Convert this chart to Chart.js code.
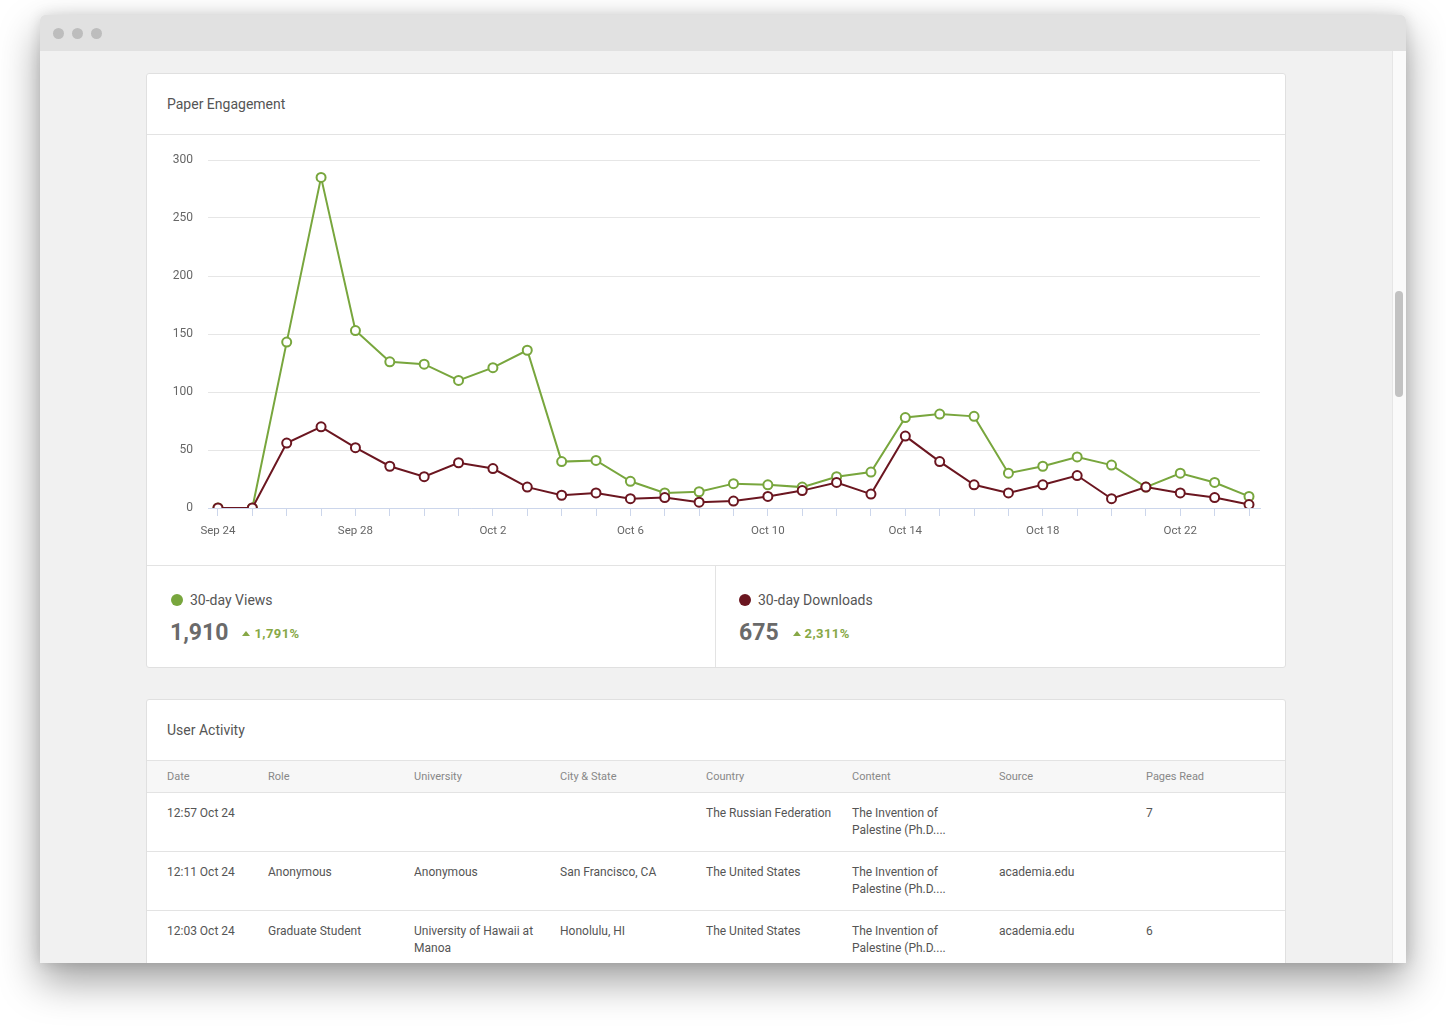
<!DOCTYPE html>
<html lang="en">
<head>
<meta charset="UTF-8">
<title>Paper Engagement</title>
<script src="https://cdn.jsdelivr.net/npm/chart.js"></script>
<style>
    html, body {
        margin: 0;
        padding: 0;
        background: #fff;
        font-family: Roboto, "Noto Sans", Arial, sans-serif;
    }

    .window {
        position: absolute;
        left: 40px;
        top: 15px;
        width: 1366px;
        height: 948px;
        overflow: hidden;
        border-radius: 5px 5px 0 0;
        box-shadow: 0 18px 40px rgba(0, 0, 0, 0.38), 0 0 14px rgba(0, 0, 0, 0.12);
    }

    .titlebar {
        height: 36px;
        background: #e1e1e1;
        position: relative;
    }

    .titlebar span {
        position: absolute;
        top: 13px;
        width: 11px;
        height: 11px;
        border-radius: 50%;
        background: #bdbdbd;
    }

    .content {
        position: absolute;
        top: 36px;
        left: 0;
        width: 1366px;
        height: 912px;
        background: #f1f1f1;
    }

    .scrollbar {
        position: absolute;
        left: 1352px;
        top: 0;
        width: 14px;
        height: 912px;
        background: #fafafa;
        border-left: 1px solid #e6e6e6;
        box-sizing: border-box;
    }

    .scrollbar div {
        position: absolute;
        left: 2px;
        top: 240px;
        width: 8px;
        height: 106px;
        border-radius: 4px;
        background: #c2c2c2;
    }

    .card {
        position: absolute;
        left: 106px;
        width: 1140px;
        background: #fff;
        border: 1px solid #e0e0e0;
        border-radius: 3px;
        box-sizing: border-box;
    }

    .card-head {
        height: 60px;
        border-bottom: 1px solid #e3e3e3;
        font-size: 14px;
        color: #555;
        line-height: 60px;
        padding-left: 20px;
    }

    .chart-box {
        position: relative;
        height: 430px;
    }

    .stats {
        display: flex;
        border-top: 1px solid #e3e3e3;
        height: 101px;
    }

    .stat {
        width: 568px;
        position: relative;
    }

    .stat + .stat {
        border-left: 1px solid #e3e3e3;
    }

    .stat .label {
        position: absolute;
        top: 26px;
        font-size: 14px;
        color: #555;
    }

    .stat .dot {
        display: inline-block;
        width: 12px;
        height: 12px;
        border-radius: 50%;
        margin-right: 7px;
        vertical-align: -1px;
    }

    .stat .num {
        position: absolute;
        top: 53px;
        font-size: 23px;
        font-weight: bold;
        color: #6a6a6a;
    }

    .stat .pct {
        font-size: 13px;
        letter-spacing: 0.4px;
        color: #87a846;
        margin-left: 14px;
        vertical-align: 2px;
    }

    .stat .pct i {
        display: inline-block;
        width: 0;
        height: 0;
        border-left: 4px solid transparent;
        border-right: 4px solid transparent;
        border-bottom: 5px solid #87a846;
        margin-right: 4px;
        vertical-align: 2px;
    }

    table {
        border-collapse: collapse;
        width: 100%;
        table-layout: fixed;
    }

    th {
        background: #f7f7f7;
        font-weight: normal;
        font-size: 11px;
        color: #888;
        text-align: left;
        height: 31px;
        padding: 0 0 0 20px;
        border-bottom: 1px solid #e3e3e3;
    }

    td {
        font-size: 12px;
        color: #555;
        line-height: 17px;
        vertical-align: top;
        padding: 12px 0 0 20px;
        height: 46px;
        border-bottom: 1px solid #e3e3e3;
    }
</style>
</head>
<body>
<div class="window">
    <div class="titlebar">
        <span style="left:13px"></span>
        <span style="left:32px"></span>
        <span style="left:51px"></span>
    </div>
    <div class="content">
        <!-- Paper engagement card -->
        <div class="card" style="top:22px; height:595px;">
            <div class="card-head">Paper Engagement</div>
            <div class="chart-box"><canvas id="engagementChart"></canvas></div>
            <div class="stats">
                <div class="stat">
                    <div class="label" style="left:24px"><span class="dot" style="background:#78a63d"></span>30-day Views</div>
                    <div class="num" style="left:23px">1,910<span class="pct"><i></i>1,791%</span></div>
                </div>
                <div class="stat">
                    <div class="label" style="left:23px"><span class="dot" style="background:#6b1620"></span>30-day Downloads</div>
                    <div class="num" style="left:23px">675<span class="pct"><i></i>2,311%</span></div>
                </div>
            </div>
        </div>

        <!-- User activity card -->
        <div class="card" style="top:648px; height:400px;">
            <div class="card-head">User Activity</div>
            <table>
                <colgroup>
                    <col style="width:101px"><col style="width:146px"><col style="width:146px"><col style="width:146px">
                    <col style="width:146px"><col style="width:147px"><col style="width:147px"><col>
                </colgroup>
                <thead>
                    <tr>
                        <th>Date</th><th>Role</th><th>University</th><th>City &amp; State</th>
                        <th>Country</th><th>Content</th><th>Source</th><th>Pages Read</th>
                    </tr>
                </thead>
                <tbody>
                    <tr>
                        <td>12:57 Oct 24</td><td></td><td></td><td></td>
                        <td>The Russian Federation</td><td>The Invention of<br>Palestine (Ph.D....</td><td></td><td>7</td>
                    </tr>
                    <tr>
                        <td>12:11 Oct 24</td><td>Anonymous</td><td>Anonymous</td><td>San Francisco, CA</td>
                        <td>The United States</td><td>The Invention of<br>Palestine (Ph.D....</td><td>academia.edu</td><td></td>
                    </tr>
                    <tr>
                        <td>12:03 Oct 24</td><td>Graduate Student</td><td>University of Hawaii at<br>Manoa</td><td>Honolulu, HI</td>
                        <td>The United States</td><td>The Invention of<br>Palestine (Ph.D....</td><td>academia.edu</td><td>6</td>
                    </tr>
                </tbody>
            </table>
        </div>

        <div class="scrollbar"><div></div></div>
    </div>
</div>

<script>
    // Datos del gráfico
    const dayLabels = [
        'Sep 24', 'Sep 25', 'Sep 26', 'Sep 27', 'Sep 28', 'Sep 29', 'Sep 30',
        'Oct 1', 'Oct 2', 'Oct 3', 'Oct 4', 'Oct 5', 'Oct 6', 'Oct 7', 'Oct 8',
        'Oct 9', 'Oct 10', 'Oct 11', 'Oct 12', 'Oct 13', 'Oct 14', 'Oct 15',
        'Oct 16', 'Oct 17', 'Oct 18', 'Oct 19', 'Oct 20', 'Oct 21', 'Oct 22',
        'Oct 23', 'Oct 24'
    ];
    const views = [0, 0, 143, 285, 153, 126, 124, 110, 121, 136, 40, 41, 23, 13, 14,
        21, 20, 18, 27, 31, 78, 81, 79, 30, 36, 44, 37, 18, 30, 22, 10];
    const downloads = [0, 0, 56, 70, 52, 36, 27, 39, 34, 18, 11, 13, 8, 9, 5,
        6, 10, 15, 22, 12, 62, 40, 20, 13, 20, 28, 8, 18, 13, 9, 3];
    const yTicks = [0, 50, 100, 150, 200, 250, 300];

    const viewsColor = '#78a63d';
    const downloadsColor = '#6b1620';
    const labelEvery = 4;

    function toPoints(values) {
        return values.map((v, i) => ({ x: i, y: v }));
    }

    function lineDataset(label, values, color, order) {
        return {
            label: label,
            data: toPoints(values),
            borderColor: color,
            backgroundColor: '#fff',
            borderWidth: 2,
            pointRadius: 4.5,
            pointBorderWidth: 2,
            pointBackgroundColor: '#fff',
            pointBorderColor: color,
            tension: 0,
            order: order
        };
    }

    const ctx = document.getElementById('engagementChart').getContext('2d');
    new Chart(ctx, {
        type: 'line',
        data: {
            datasets: [
                lineDataset('30-day Views', views, viewsColor, 1),
                lineDataset('30-day Downloads', downloads, downloadsColor, 0)
            ]
        },
        options: {
            responsive: true,
            maintainAspectRatio: false,
            animation: false,
            layout: { padding: { left: 16, right: 25, top: 25, bottom: 27 } },
            plugins: {
                legend: { display: false },
                tooltip: { enabled: false }
            },
            scales: {
                x: {
                    type: 'linear',
                    min: -0.29,
                    max: dayLabels.length - 1 + 0.32,
                    grid: {
                        drawOnChartArea: false,
                        drawTicks: true,
                        tickLength: 8,
                        color: '#ccd6eb'
                    },
                    border: { color: '#ccd6eb' },
                    ticks: {
                        stepSize: 1,
                        includeBounds: false,
                        autoSkip: false,
                        maxRotation: 0,
                        padding: 8,
                        color: '#666',
                        font: { family: 'Roboto', size: 11.5 },
                        callback: function (value) {
                            const i = Math.round(value);
                            return i % labelEvery === 0 ? dayLabels[i] : '';
                        }
                    },
                    afterFit: function (scale) { scale.height = 30; }
                },
                y: {
                    min: yTicks[0],
                    max: yTicks[yTicks.length - 1],
                    grid: { color: '#e6e6e6', drawTicks: false },
                    border: { display: false },
                    afterBuildTicks: function (scale) {
                        scale.ticks = yTicks.map(v => ({ value: v }));
                    },
                    ticks: {
                        padding: 15,
                        color: '#666',
                        font: { family: 'Roboto', size: 12 }
                    },
                    afterFit: function (scale) { scale.width = 45; }
                }
            }
        }
    });
</script>
</body>
</html>
